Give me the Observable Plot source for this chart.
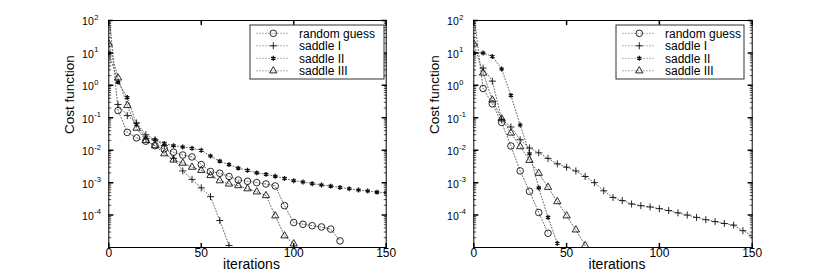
<!DOCTYPE html>
<html><head><meta charset="utf-8">
<script src="https://cdn.jsdelivr.net/npm/d3@7"></script>
<script src="https://cdn.jsdelivr.net/npm/@observablehq/plot@0.6"></script>
<style>
body{margin:0;background:#fff;}
#chart{position:relative;width:830px;height:277px;display:flex;}
#chart svg{display:block;}
</style></head><body><div id="chart"></div>
<script>
// ---- shared labels / ticks ----
const xTicks = [0, 50, 100, 150];
const yTickExponents = [2, 1, 0, -1, -2, -3, -4];
const minorMultipliers = [2, 3, 4, 5, 6, 7, 8, 9];
const minorDecades = [-5, -4, -3, -2, -1, 0, 1];
const legendLabels = ["random guess", "saddle I", "saddle II", "saddle III"];
const xLabel = "iterations";
const yLabel = "Cost function";

// ---- left panel ----
const leftRandomX = [0,5,10,15,20,25,30,35,40,45,50,55,60,65,70,75,80,85,90,95,100,105,110,115,120,125];
const leftRandomY = [200,0.166,0.0355,0.024,0.019,0.0138,0.011,0.0087,0.0071,0.0062,0.0036,0.0022,0.00195,0.00155,0.0012,0.0011,0.001,0.00091,0.00079,0.000195,5.9e-5,5.2e-5,4.7e-5,4.3e-5,3.7e-5,1.6e-5];
const leftSaddle1X = [5,10,15,20,25,30,35,40,45,50,55,60,65];
const leftSaddle1Y = [0.257,0.117,0.069,0.030,0.021,0.014,0.0056,0.0023,0.00126,0.00069,0.00037,6.8e-5,1.15e-5];
const leftSaddle2X = [0,5,10,15,20,25,30,35,40,45,50,55,60,65,70,75,80,85,90,95,100,105,110,115,120,125,130,135,140,145,150];
const leftSaddle2Y = [10,1.26,0.42,0.063,0.024,0.021,0.0162,0.0138,0.0126,0.0115,0.01,0.0066,0.0046,0.0036,0.0028,0.0024,0.002,0.0018,0.00158,0.00135,0.00115,0.00105,0.00093,0.00085,0.00078,0.00071,0.00065,0.00059,0.00055,0.00051,0.00049];
const leftSaddle3X = [0,5,10,15,20,25,30,35,40,45,50,55,60,65,70,75,80,85,90,95,100];
const leftSaddle3Y = [19,1.7,0.24,0.048,0.02,0.0138,0.0078,0.005,0.004,0.003,0.0024,0.00166,0.00115,0.00091,0.00081,0.00065,0.00052,0.0004,9.5e-5,2.3e-5,1.3e-5];

// ---- right panel ----
const rightRandomX = [0,5,10,15,20,25,30,35,40];
const rightRandomY = [160,0.8,0.27,0.072,0.0135,0.0023,0.00054,0.00012,2.75e-5];
const rightSaddle1X = [5,10,15,20,25,30,35,40,45,50,55,60,65,70,75,80,85,90,95,100,105,110,115,120,125,130,135,140,145,150];
const rightSaddle1Y = [3.4,1.35,0.09,0.052,0.021,0.0117,0.0083,0.0056,0.0038,0.003,0.0023,0.00155,0.001,0.00056,0.00035,0.00028,0.00022,0.000195,0.000178,0.000158,0.000138,0.000117,0.0001,8.5e-5,7.2e-5,6.3e-5,5.5e-5,4.9e-5,3.3e-5,2.3e-5];
const rightSaddle2X = [0,5,10,15,20,25,30,35,40,45];
const rightSaddle2Y = [10,10,7.8,3.2,0.49,0.06,0.0078,0.00069,8.5e-5,1.35e-5];
const rightSaddle3X = [0,5,10,15,20,25,30,35,40,45,50,55,60];
const rightSaddle3Y = [19,2.4,0.355,0.093,0.034,0.0129,0.0049,0.00195,0.00072,0.00026,9.5e-5,3.5e-5,1.15e-5];

const zip = (xs, ys) => xs.map((x, i) => ({x, y: ys[i]}));

const markerStyles = [
  {symbol: "circle", r: 3.3, strokeWidth: 0.9, d3s: d3.symbolCircle},
  {symbol: "plus", r: 2.4, strokeWidth: 0.9, d3s: d3.symbolPlus},
  {symbol: "asterisk", r: 2.3, strokeWidth: 1.3, d3s: d3.symbolAsterisk},
  {symbol: "triangle", r: 2.7, strokeWidth: 0.9, d3s: d3.symbolTriangle}
];

const tickRight = {draw(c, l) { c.moveTo(0, 0); c.lineTo(l, 0); }};
const tickLeft = {draw(c, l) { c.moveTo(0, 0); c.lineTo(-l, 0); }};
const tickUp = {draw(c, l) { c.moveTo(0, 0); c.lineTo(0, -l); }};
const tickDown = {draw(c, l) { c.moveTo(0, 0); c.lineTo(0, l); }};

const FONT = "'Liberation Sans', Arial, Helvetica, sans-serif";

function panel(seriesList, marginLeft, marginRight, legend) {
  const majorY = yTickExponents.map(e => 10 ** e);
  const minorY = minorDecades.flatMap(e => minorMultipliers.map(m => m * 10 ** e));
  const marks = [];
  seriesList.forEach((pts, i) => {
    marks.push(Plot.line(pts, {x: "x", y: "y", stroke: "#666", strokeWidth: 1, strokeDasharray: "1,2", clip: true}));
  });
  seriesList.forEach((pts, i) => {
    const s = markerStyles[i];
    marks.push(Plot.dot(pts, {x: "x", y: "y", symbol: s.symbol, r: s.r, stroke: "#111", fill: "none", strokeWidth: s.strokeWidth, clip: true}));
  });
  // inward ticks
  marks.push(Plot.vector(majorY, {y: d => d, frameAnchor: "left", length: 4, anchor: "start", shape: tickRight, stroke: "black"}));
  marks.push(Plot.vector(majorY, {y: d => d, frameAnchor: "right", length: 4, anchor: "start", shape: tickLeft, stroke: "black"}));
  marks.push(Plot.vector(minorY, {y: d => d, frameAnchor: "left", length: 2, anchor: "start", shape: tickRight, stroke: "black", strokeWidth: 0.7}));
  marks.push(Plot.vector(minorY, {y: d => d, frameAnchor: "right", length: 2, anchor: "start", shape: tickLeft, stroke: "black", strokeWidth: 0.7}));
  marks.push(Plot.vector(xTicks, {x: d => d, frameAnchor: "bottom", length: 4, anchor: "start", shape: tickUp, stroke: "black"}));
  marks.push(Plot.vector(xTicks, {x: d => d, frameAnchor: "top", length: 4, anchor: "start", shape: tickDown, stroke: "black"}));
  marks.push(Plot.frame({stroke: "black", strokeWidth: 1}));
  // tick labels
  marks.push(Plot.text(xTicks, {x: d => d, frameAnchor: "bottom", dy: 9, text: d => String(d), fontSize: 12, fill: "black"}));
  marks.push(Plot.text(yTickExponents, {y: d => 10 ** d, frameAnchor: "left", text: () => "10", textAnchor: "end", dx: -15, dy: 1.5, fontSize: 10.5, fill: "black"}));
  marks.push(Plot.text(yTickExponents, {y: d => 10 ** d, frameAnchor: "left", text: d => String(d), textAnchor: "start", dx: -14.5, dy: -3, fontSize: 7.5, fill: "black"}));
  // axis labels
  marks.push(Plot.text([xLabel], {frameAnchor: "bottom", dx: 4, dy: 21.5, text: d => d, fontSize: 14, fill: "black", letterSpacing: "0.8px"}));
  marks.push(Plot.text([yLabel], {frameAnchor: "left", dx: -39, rotate: -90, text: d => d, fontSize: 13.5, fill: "black"}));

  const svg = Plot.plot({
    width: 415, height: 277,
    marginLeft, marginRight, marginTop: 20, marginBottom: 30,
    x: {domain: [0, 150], axis: null},
    y: {type: "log", domain: [1e-5, 1e2], axis: null},
    style: {fontFamily: FONT, background: "white", color: "black", overflow: "visible"},
    marks
  });

  // legend (inside axes, upper right)
  const g = d3.select(svg).append("g").attr("font-family", FONT).attr("text-anchor", "start");
  g.append("rect").attr("x", legend.x0).attr("y", 25).attr("width", legend.x1 - legend.x0).attr("height", 54)
    .attr("fill", "white").attr("stroke", "#333").attr("stroke-width", 1);
  legendLabels.forEach((lab, i) => {
    const cy = 33.3 + i * 12.5;
    const lx0 = legend.x0 + 6.5, lx1 = legend.x0 + 38, mx = legend.x0 + 23.3;
    g.append("line").attr("x1", lx0).attr("x2", lx1).attr("y1", cy).attr("y2", cy)
      .attr("stroke", "#666").attr("stroke-dasharray", "1,2");
    const s = markerStyles[i];
    g.append("path").attr("d", d3.symbol(s.d3s, Math.PI * s.r * s.r)())
      .attr("transform", `translate(${mx},${cy})`).attr("fill", "none").attr("stroke", "#111").attr("stroke-width", s.strokeWidth);
    g.append("text").attr("x", legend.x0 + 49).attr("y", cy).attr("dy", "0.35em")
      .attr("text-anchor", "start").attr("font-size", 12).attr("fill", "black").text(lab);
  });
  return svg;
}

const chart = document.getElementById("chart");
chart.appendChild(panel(
  [zip(leftRandomX, leftRandomY), zip(leftSaddle1X, leftSaddle1Y), zip(leftSaddle2X, leftSaddle2Y), zip(leftSaddle3X, leftSaddle3Y)],
  108.3, 29.3, {x0: 250, x1: 384}));
chart.appendChild(panel(
  [zip(rightRandomX, rightRandomY), zip(rightSaddle1X, rightSaddle1Y), zip(rightSaddle2X, rightSaddle2Y), zip(rightSaddle3X, rightSaddle3Y)],
  58.3, 78.3, {x0: 201, x1: 329}));
</script></body></html>
